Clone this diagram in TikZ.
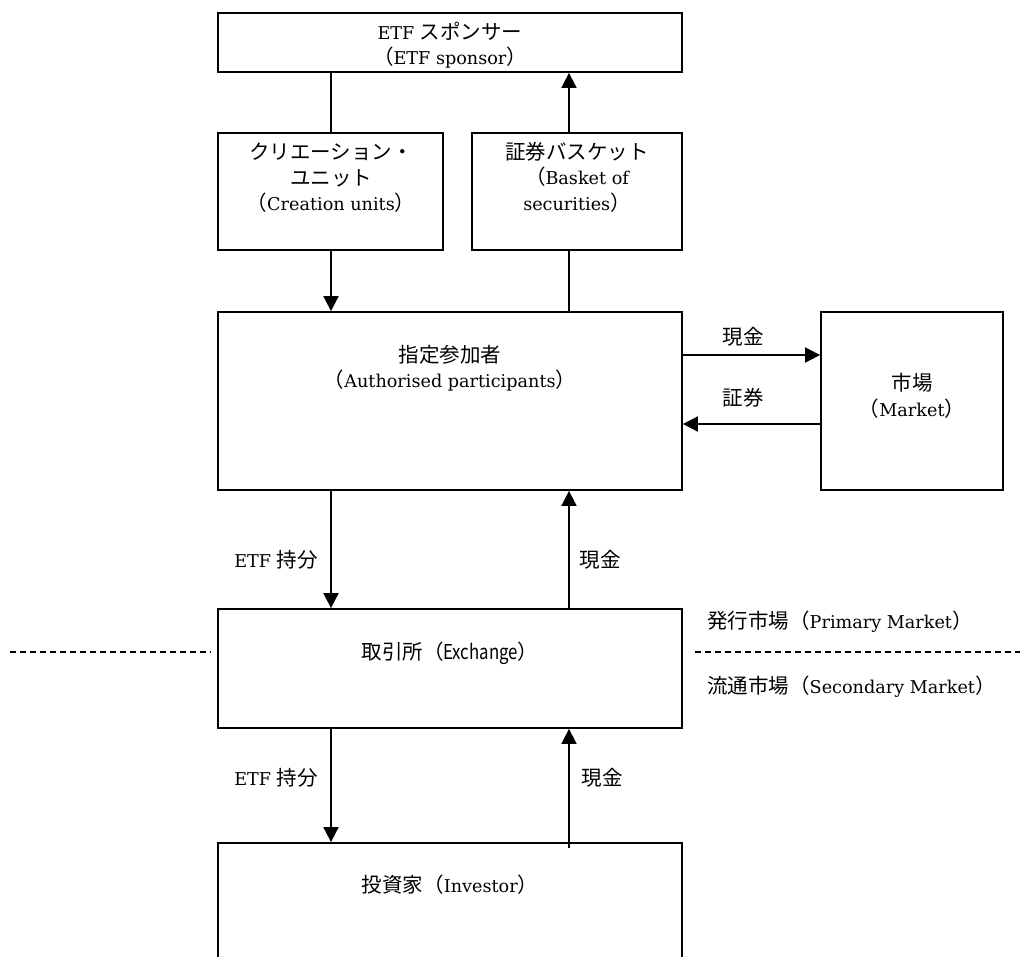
\documentclass[tikz,border=0pt]{standalone}
\usepackage{fontspec}
\setmainfont[Scale=0.86]{DejaVu Serif}
\newfontfamily\jp{Noto Sans CJK JP}
\newfontfamily\jpn[FakeStretch=0.82]{Noto Sans CJK JP}
\usetikzlibrary{arrows.meta,calc}
\begin{document}
\begin{tikzpicture}[x=1pt,y=-1pt,
  box/.style={draw,line width=1.8pt,inner sep=0pt},
  txt/.style={align=center,font=\fontsize{20.5}{25.5}\selectfont,inner sep=0pt},
  ln/.style={line width=1.8pt},
  arr/.style={line width=1.8pt,-{Triangle[length=15pt,width=15pt]}},
  divider/.style={line width=1.8pt,dash pattern=on 6pt off 4pt}]
\useasboundingbox (0,0) rectangle (1020,956);
\clip (0,0) rectangle (1020,956);
% boxes
\node[box,minimum width=464pt,minimum height=59pt] (sponsor) at (450,42.5) {};
\node[box,minimum width=225pt,minimum height=117pt] (creation) at (330.5,191.5) {};
\node[box,minimum width=210pt,minimum height=117pt] (basket) at (577,191.5) {};
\node[box,minimum width=464pt,minimum height=178pt] (ap) at (450,401) {};
\node[box,minimum width=182pt,minimum height=178pt] (market) at (912,401) {};
\node[box,minimum width=464pt,minimum height=119pt] (exch) at (450,668.5) {};
\node[box,minimum width=464pt,minimum height=200pt] (inv) at (450,943) {};
% texts in boxes
\node[txt] (sponsorT) at (450,45) {ETF {\jp スポンサー}\\{\jp （}ETF sponsor{\jp ）}};
\node[txt] (creationT) at (331,178) {{\jp クリエーション・}\\{\jp ユニット}\\{\jp （}Creation units{\jp ）}};
\node[txt] (basketT) at (577,177) {{\jp 証券バスケット}\\{\jp （}Basket of\\securities{\jp ）}};
\node[txt] (apT) at (450,368) {{\jp 指定参加者}\\{\jp （}Authorised participants{\jp ）}};
\node[txt] (marketT) at (912,396) {{\jp 市場}\\{\jp （}Market{\jp ）}};
\node[txt] (exchT) at (450,653) {{\jp 取引所（}{\jpn Exchange}{\jp ）}};
\node[txt] (invT) at (450,885) {{\jp 投資家（}Investor{\jp ）}};
% x / y reference coordinates
\coordinate (xl) at (331,0);
\coordinate (xr) at (569,0);
\coordinate (ya) at (0,355);
\coordinate (yb) at (0,424);
\coordinate (dl) at (10,652);
\coordinate (dr) at (1020,652);
% connectors
\draw[ln] (sponsor.south -| xl) -- (creation.north -| xl);
\draw[arr] (basket.north -| xr) -- (sponsor.south -| xr);
\draw[arr] (creation.south -| xl) -- (ap.north -| xl);
\draw[ln] (basket.south -| xr) -- (ap.north -| xr);
\draw[arr] (ap.east |- ya) -- (market.west |- ya);
\draw[arr] (market.west |- yb) -- (ap.east |- yb);
\draw[arr] (ap.south -| xl) -- (exch.north -| xl);
\draw[arr] (exch.north -| xr) -- (ap.south -| xr);
\draw[arr] (exch.south -| xl) -- (inv.north -| xl);
\draw[arr] ($(inv.north -| xr)+(0,6)$) -- (exch.south -| xr);
% flow labels
\node[txt] (l1) at (743,337) {\jp 現金};
\node[txt] (l2) at (743,398) {\jp 証券};
\node[txt] (l3) at (276,560) {ETF {\jp 持分}};
\node[txt] (l4) at (600,560) {\jp 現金};
\node[txt] (l5) at (276,778) {ETF {\jp 持分}};
\node[txt] (l6) at (602,778) {\jp 現金};
% market divider
\draw[divider] (dl) -- ($(exch.west |- dl)+(-6,0)$);
\draw[divider] ($(exch.east |- dr)+(12,0)$) -- (dr);
\node[txt,anchor=west] (prim) at (707,622) {{\jp 発行市場（}Primary Market{\jp ）}};
\node[txt,anchor=west] (sec) at (707,687) {{\jp 流通市場（}Secondary Market{\jp ）}};
\end{tikzpicture}
\end{document}
